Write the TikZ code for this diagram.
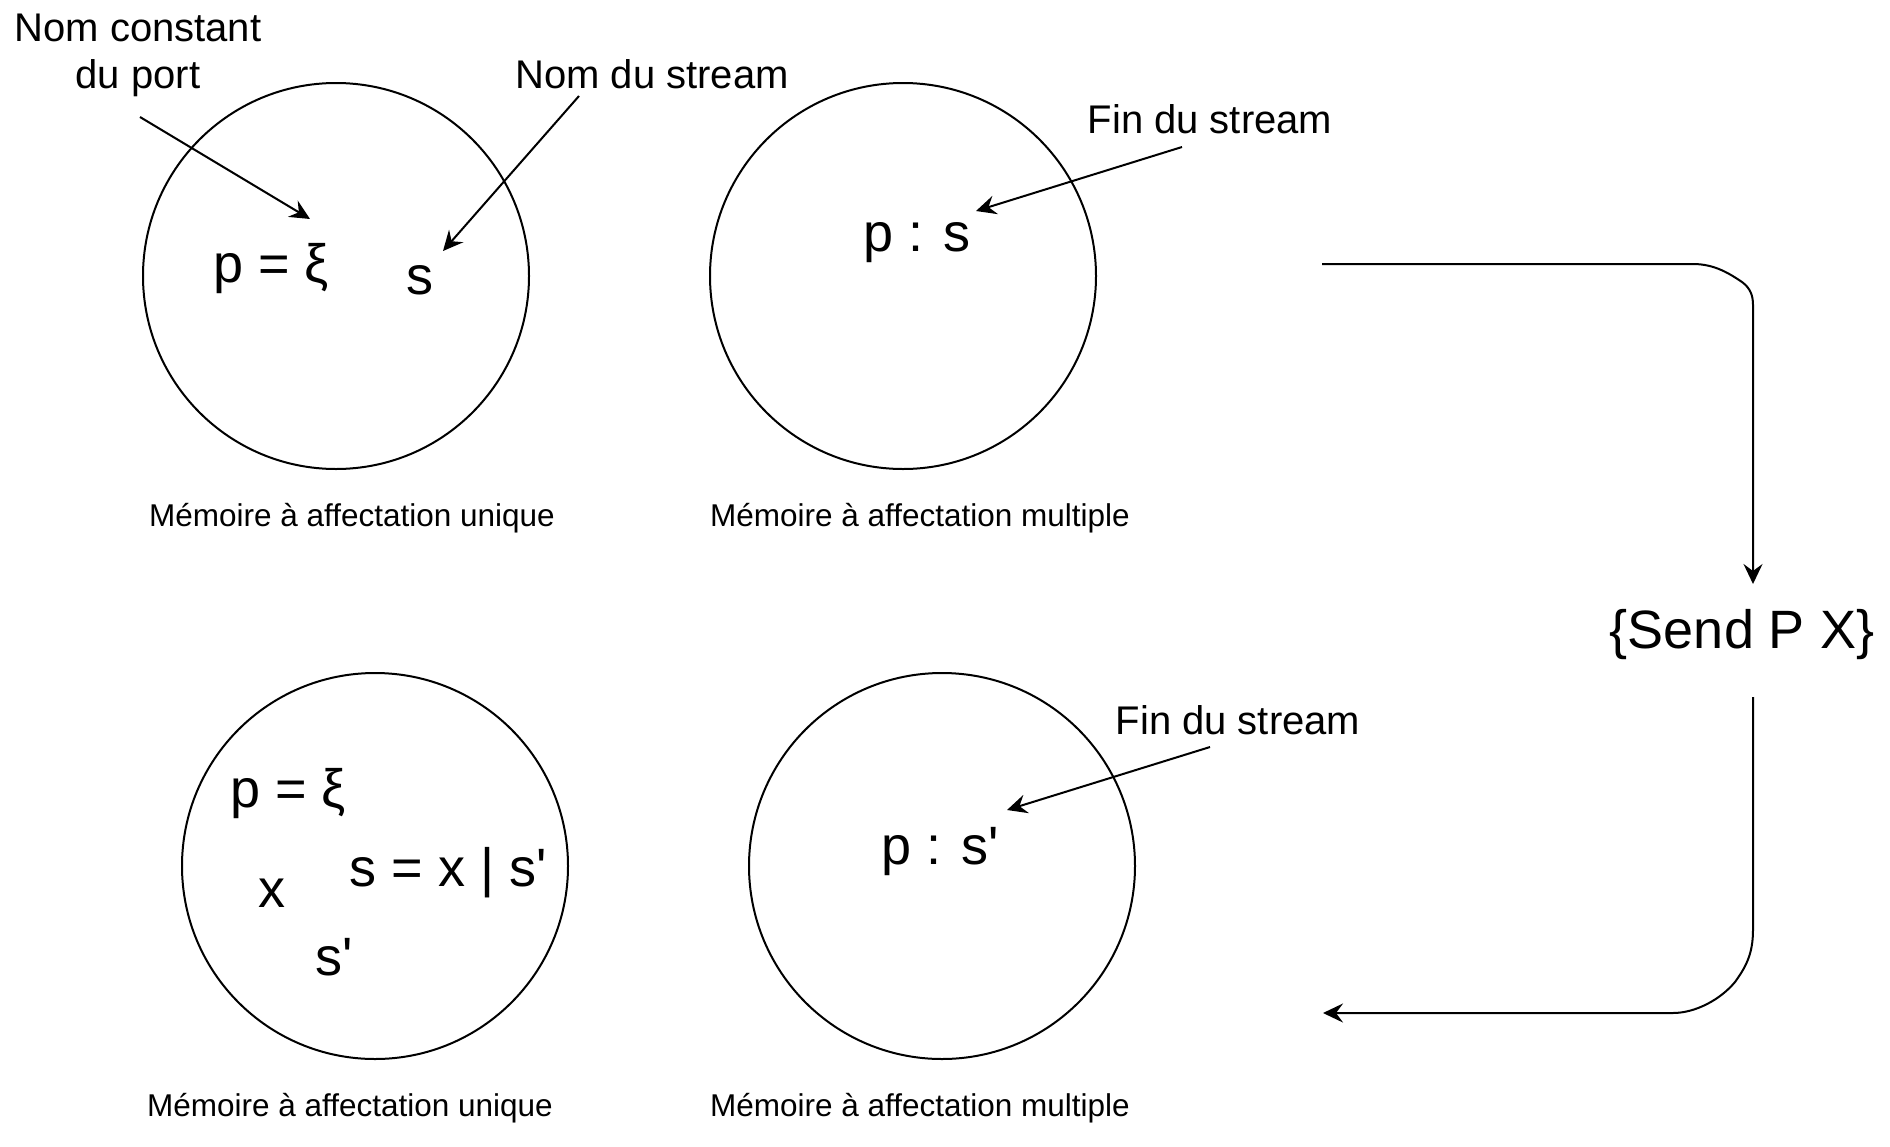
\documentclass[tikz,border=0pt]{standalone}
\usepackage{fontspec}
\setmainfont{Liberation Sans}[Ligatures=TeXOff]
\usetikzlibrary{arrows.meta}
\begin{document}
\begin{tikzpicture}[x=1pt,y=-1pt,
  mem/.style={circle,draw,line width=2pt,minimum size=386pt,inner sep=0pt},
  lbl/.style={font=\fontsize{40}{48}\selectfont,anchor=base,inner sep=0pt},
  expr/.style={font=\fontsize{54}{64}\selectfont,anchor=base,inner sep=0pt},
  captext/.style={font=\fontsize{31.5}{38}\selectfont,anchor=base,inner sep=0pt},
  ptr/.style={line width=2pt,-{Stealth[length=20pt,width=19pt,inset=7pt]}},
]
\useasboundingbox (0,0) rectangle (1890,1146);

% memories
\node[mem] (m1) at (336,276) {};
\node[mem] (m2) at (903,276) {};
\node[mem] (m3) at (375,866) {};
\node[mem] (m4) at (942,866) {};

% labels
\node[lbl] (nc1) at (138,41) {Nom constant};
\node[lbl] (nc2) at (138,88) {du port};
\node[lbl] (nds) at (652,88) {Nom du stream};
\node[lbl] (fin1) at (1210,133) {Fin du stream};
\node[lbl] (fin2) at (1238,734) {Fin du stream};

% expressions
\node[expr] (e1) at (271,282) {p = ξ};
\node[expr] (e2) at (420,294) {s};
\node[expr] (e3) at (917,251) {p : s};
\node[expr] (e4) at (288,807) {p = ξ};
\node[expr] (e5) at (272,907) {x};
\node[expr] (e6) at (448,886) {s = x | s'};
\node[expr] (e7) at (334,975) {s'};
\node[expr] (e8) at (940,864) {p : s'};
\node[expr] (send) at (1742,648) {\{Send P X\}};

% captions
\node[captext] (k1) at (352,526) {Mémoire à affectation unique};
\node[captext] (k2) at (920,526) {Mémoire à affectation multiple};
\node[captext] (k3) at (350,1116) {Mémoire à affectation unique};
\node[captext] (k4) at (920,1116) {Mémoire à affectation multiple};

% pointer arrows
\coordinate (p1s) at (140,117); \coordinate (p1e) at (310,219);
\coordinate (p2s) at (579,96);  \coordinate (p2e) at (443,251);
\coordinate (p3s) at (1182,147); \coordinate (p3e) at (976,211);
\coordinate (p4s) at (1210,747); \coordinate (p4e) at (1007,810);
\draw[ptr] (p1s) -- (p1e);
\draw[ptr] (p2s) -- (p2e);
\draw[ptr] (p3s) -- (p3e);
\draw[ptr] (p4s) -- (p4e);

% flow connectors
\coordinate (c1s) at (1322,264); \coordinate (c1e) at (1753,584);
\coordinate (c2s) at (1753,697); \coordinate (c2e) at (1323,1013);
\draw[ptr] (c1s) -- (1693,264) .. controls (1715,264) and (1730,274) .. (1742,282)
  .. controls (1750,288) and (1753,295) .. (1753,305) -- (c1e);
\draw[ptr] (c2s) -- (1753,930) .. controls (1753,955) and (1745,968) .. (1735,982)
  .. controls (1720,1000) and (1695,1013) .. (1673,1013) -- (c2e);
\end{tikzpicture}
\end{document}
